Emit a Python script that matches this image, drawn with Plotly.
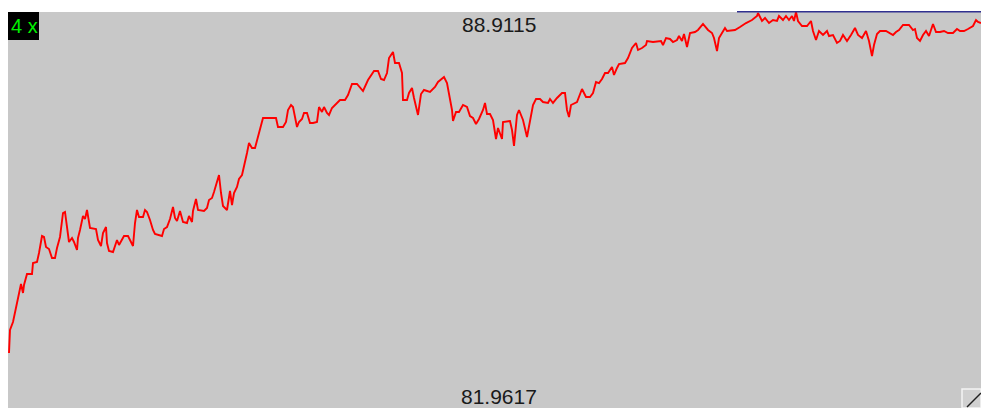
import plotly.graph_objects as go

# sample positions (horizontal index) and values
sample = [9, 10, 13, 15, 17, 19, 21, 23, 24, 27, 32, 33, 37, 39, 42, 44, 46, 49, 52, 55,
          57, 60, 63, 65, 67, 69, 72, 74, 77, 78, 80, 83, 85, 87, 90, 96, 98, 101, 103, 106,
          107, 109, 113, 117, 119, 122, 124, 128, 130, 133, 135, 137, 139, 143, 145, 147, 150, 153, 155, 162,
          164, 167, 170, 173, 175, 177, 180, 183, 187, 189, 192, 193, 196, 198, 204, 207, 209, 212, 214, 217,
          219, 221, 223, 227, 230, 232, 234, 237, 239, 242, 245, 247, 249, 252, 255, 257, 260, 263, 276, 278,
          283, 286, 288, 291, 293, 297, 299, 302, 304, 307, 310, 313, 317, 319, 322, 324, 327, 329, 332, 335,
          340, 345, 348, 352, 357, 363, 368, 374, 378, 381, 384, 387, 389, 393, 395, 399, 402, 403, 407, 409,
          412, 414, 417, 418, 421, 424, 430, 435, 438, 444, 447, 449, 452, 453, 456, 459, 463, 467, 470, 473,
          476, 479, 483, 485, 487, 490, 493, 496, 498, 502, 503, 510, 512, 514, 517, 519, 523, 527, 531, 533,
          536, 540, 543, 548, 550, 553, 557, 562, 565, 567, 569, 571, 577, 582, 586, 590, 593, 596, 599, 602,
          605, 608, 612, 614, 617, 619, 625, 628, 632, 636, 638, 642, 646, 647, 653, 661, 663, 666, 670, 673,
          677, 679, 682, 684, 687, 690, 695, 698, 703, 706, 708, 712, 714, 717, 719, 722, 725, 727, 735, 740,
          746, 752, 757, 758, 762, 765, 769, 773, 777, 779, 783, 786, 789, 792, 794, 796, 798, 802, 807, 811,
          813, 816, 819, 823, 827, 829, 833, 837, 840, 843, 847, 851, 855, 858, 862, 866, 869, 872, 874, 877,
          880, 886, 889, 893, 896, 899, 903, 909, 913, 915, 917, 920, 923, 926, 929, 933, 936, 940, 944, 948,
          953, 957, 960, 964, 968, 973, 976, 978, 981]

value = [82.927, 83.331, 83.471, 83.646, 83.805, 83.980, 84.138, 83.980, 84.120, 84.313, 84.313, 84.506, 84.524, 84.682, 84.980, 84.963, 84.787, 84.752, 84.594, 84.594,
         84.770, 84.963, 85.384, 85.402, 85.086, 84.875, 84.945, 84.875, 84.735, 84.945, 85.086, 85.331, 85.279, 85.437, 85.121, 85.103, 84.910, 84.805, 85.033, 85.138,
         84.857, 84.717, 84.699, 84.910, 84.822, 84.910, 84.980, 84.980, 84.910, 84.805, 85.208, 85.437, 85.314, 85.314, 85.437, 85.402, 85.261, 85.086, 85.015, 84.980,
         85.103, 85.138, 85.279, 85.489, 85.296, 85.243, 85.419, 85.226, 85.208, 85.331, 85.226, 85.419, 85.630, 85.437, 85.419, 85.472, 85.612, 85.647, 85.752, 85.928,
         86.051, 85.735, 85.507, 85.437, 85.770, 85.524, 85.735, 85.840, 85.981, 86.051, 86.261, 86.437, 86.612, 86.525, 86.525, 86.665, 86.893, 87.051, 87.051, 86.893,
         86.893, 86.981, 87.192, 87.279, 87.244, 86.893, 86.981, 87.034, 87.139, 87.139, 86.963, 86.963, 86.981, 87.244, 87.157, 87.244, 87.139, 87.104, 87.227, 87.279,
         87.367, 87.367, 87.455, 87.648, 87.648, 87.525, 87.718, 87.876, 87.876, 87.736, 87.718, 87.841, 88.104, 88.209, 88.016, 88.016, 87.841, 87.367, 87.367, 87.490,
         87.578, 87.402, 87.139, 87.104, 87.472, 87.543, 87.508, 87.595, 87.683, 87.771, 87.665, 87.490, 87.192, 86.998, 87.157, 87.157, 87.279, 87.244, 87.086, 87.051,
         86.946, 87.034, 87.192, 87.315, 87.121, 87.121, 87.016, 86.683, 86.876, 86.683, 86.981, 86.998, 86.841, 86.560, 87.104, 87.192, 87.016, 86.718, 87.051, 87.279,
         87.385, 87.385, 87.332, 87.315, 87.385, 87.315, 87.402, 87.490, 87.490, 87.192, 87.069, 87.279, 87.332, 87.560, 87.420, 87.420, 87.490, 87.683, 87.665, 87.736,
         87.841, 87.841, 87.946, 87.806, 87.929, 87.999, 88.016, 88.104, 88.280, 88.368, 88.245, 88.280, 88.332, 88.403, 88.385, 88.403, 88.332, 88.455, 88.438, 88.385,
         88.420, 88.490, 88.403, 88.525, 88.297, 88.543, 88.560, 88.596, 88.701, 88.631, 88.596, 88.543, 88.455, 88.227, 88.455, 88.543, 88.631, 88.578, 88.596, 88.648,
         88.718, 88.771, 88.841, 88.894, 88.754, 88.806, 88.718, 88.771, 88.754, 88.841, 88.771, 88.841, 88.771, 88.841, 88.754, 88.9115, 88.754, 88.666, 88.666, 88.754,
         88.578, 88.420, 88.578, 88.508, 88.578, 88.490, 88.508, 88.368, 88.403, 88.508, 88.403, 88.508, 88.631, 88.508, 88.455, 88.578, 88.403, 88.139, 88.332, 88.525,
         88.578, 88.578, 88.543, 88.508, 88.560, 88.596, 88.683, 88.683, 88.596, 88.613, 88.455, 88.403, 88.508, 88.578, 88.490, 88.701, 88.560, 88.560, 88.578, 88.543,
         88.543, 88.613, 88.578, 88.578, 88.613, 88.666, 88.771, 88.736, 88.718]

max_label = "88.9115"
min_label = "81.9617"
zoom_label = "4 x"

W, H = 981, 408
L, T = 8, 12
PW, PH = W - L, H - T


def px(xp):
    return (xp - L) / PW


def py(yp):
    return (H - yp) / PH


fig = go.Figure()
fig.add_trace(go.Scatter(x=sample, y=value, mode="lines",
                         line=dict(color="#ff0000", width=1.9, shape="linear"),
                         hoverinfo="skip", showlegend=False))

fig.update_layout(
    width=W, height=H,
    margin=dict(l=L, r=0, t=T, b=0, pad=0),
    paper_bgcolor="#ffffff",
    plot_bgcolor="#c8c8c8",
    xaxis=dict(range=[8, 981], visible=False, fixedrange=True),
    yaxis=dict(range=[81.9617, 88.9115], visible=False, fixedrange=True),
    font=dict(family="Liberation Sans, Arial, sans-serif"),
    shapes=[
        # zoom box
        dict(type="rect", xref="paper", yref="paper", x0=px(8), x1=px(39), y0=py(40), y1=py(12),
             fillcolor="#000000", line=dict(width=0), layer="above"),
        # blue marker line at top
        dict(type="line", xref="paper", yref="paper", x0=px(737), x1=1, y0=py(11.8), y1=py(11.8),
             line=dict(color="#30308f", width=1.6), layer="above"),
        # corner icon
        dict(type="rect", xref="paper", yref="paper", x0=px(962), x1=px(981), y0=py(408), y1=py(389),
             fillcolor="#d0d0d0", line=dict(color="#f4f4f4", width=1.5), layer="above"),
        dict(type="line", xref="paper", yref="paper", x0=px(967), x1=px(981), y0=py(407), y1=py(393),
             line=dict(color="#202020", width=1.5), layer="above"),
    ],
    annotations=[
        dict(text=max_label, xref="paper", yref="paper", x=px(499), y=py(24.2),
             xanchor="center", yanchor="middle", showarrow=False,
             font=dict(size=21, color="#1a1a1a")),
        dict(text=min_label, xref="paper", yref="paper", x=px(499), y=py(396),
             xanchor="center", yanchor="middle", showarrow=False,
             font=dict(size=21, color="#1a1a1a")),
        dict(text=zoom_label, xref="paper", yref="paper", x=px(24), y=py(26),
             xanchor="center", yanchor="middle", showarrow=False,
             font=dict(size=20, color="#00f000")),
    ],
)

fig.write_html("out.html")
